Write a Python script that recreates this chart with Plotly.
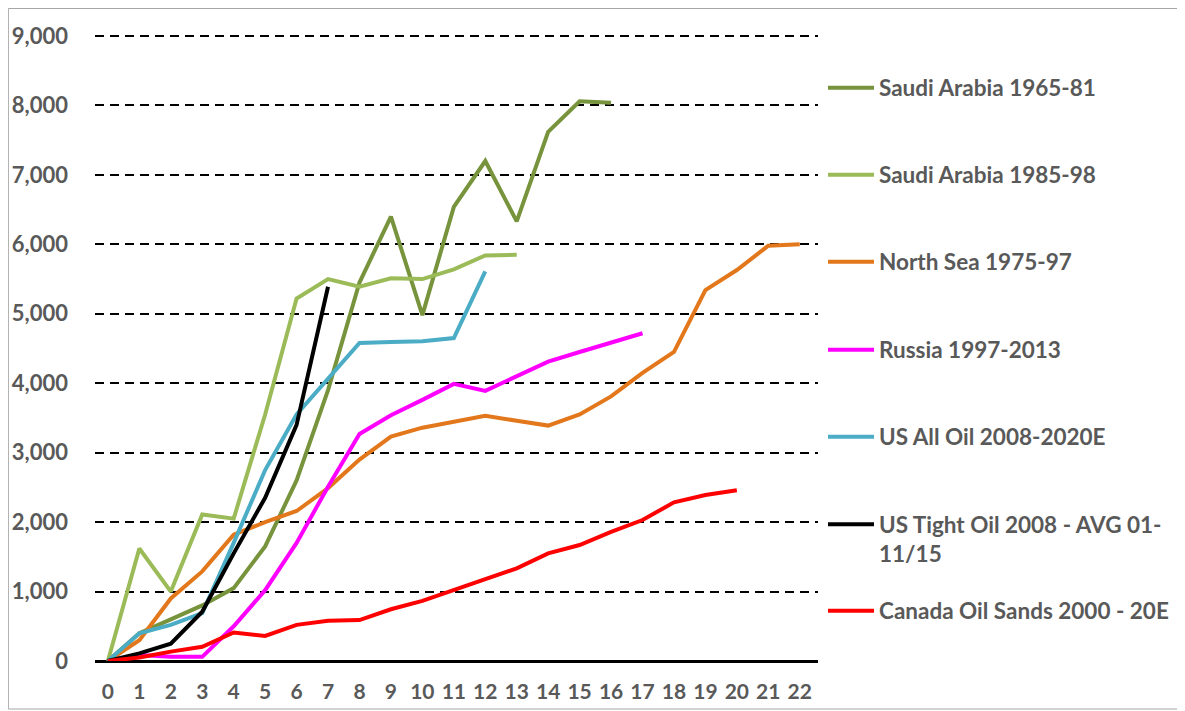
import plotly.graph_objects as go

# years since start of ramp-up
years = list(range(23))

saudi_65_81 = [0, 400, 600, 800, 1050, 1650, 2600, 3900, 5450, 6400, 4980, 6540, 7200, 6330, 7620, 8060, 8040]
saudi_85_98 = [0, 1620, 1000, 2110, 2050, 3550, 5220, 5500, 5390, 5510, 5500, 5640, 5840, 5850]
north_sea = [0, 300, 900, 1290, 1820, 2000, 2160, 2490, 2900, 3230, 3360, 3450, 3530, 3460, 3390,
             3550, 3810, 4150, 4450, 5340, 5630, 5980, 6000]
russia = [0, 85, 60, 60, 500, 1020, 1700, 2510, 3270, 3540, 3760, 3990, 3890, 4100, 4310, 4450, 4580, 4720]
us_all_oil = [0, 400, 520, 690, 1700, 2750, 3550, 4060, 4580, 4595, 4605, 4650, 5610]
us_tight_oil = [0, 110, 250, 710, 1550, 2350, 3400, 5390]
canada_sands = [0, 50, 135, 205, 410, 360, 520, 580, 590, 745, 865, 1020, 1190, 1335, 1550, 1670,
                1860, 2030, 2285, 2390, 2460]

series_names = ["Saudi Arabia 1965-81", "Saudi Arabia 1985-98", "North Sea 1975-97",
                "Russia 1997-2013", "US All Oil 2008-2020E", "US Tight Oil 2008 - AVG 01-<br>11/15",
                "Canada Oil Sands 2000 - 20E"]
series_values = [saudi_65_81, saudi_85_98, north_sea, russia, us_all_oil, us_tight_oil, canada_sands]
colors = ["#77933C", "#9BBB59", "#E3771B", "#FF00FF", "#4BACC6", "#000000", "#FF0000"]
legend_rows_px = [88, 175, 262, 350, 437, 524, 611]

# the page body adds an 8px offset, so the figure is laid out 8px smaller
OFF = 8
EXTRA = 3  # a few px of headroom so the 9,000 gridline is drawn
W, H = 1185 - OFF, 711 - OFF
L, T = 95 - OFF, 36 - OFF - EXTRA
R = W - (818 - OFF)
B = H - (661 - OFF)
plot_w = W - L - R
plot_h = H - T - B
ytop = 9000 * plot_h / (plot_h - EXTRA)
gray = "#595959"
font_fam = "Lato"

fig = go.Figure()
for i, (name, vals, col) in enumerate(zip(series_names, series_values, colors)):
    leg = "legend" if i == 0 else f"legend{i + 1}"
    fig.add_trace(go.Scatter(x=years[:len(vals)], y=vals, name=name, mode="lines",
                             line=dict(color=col, width=4), legend=leg))

# one legend box per series so rows sit where the original has them
for i, py in enumerate(legend_rows_px):
    key = "legend" if i == 0 else f"legend{i + 1}"
    fig.layout[key] = dict(
        x=(831 - 8 - OFF - L) / plot_w, xanchor="left",
        y=(H - B - (py - OFF)) / plot_h, yanchor="middle",
        font=dict(family=font_fam, size=22.5, color=gray, weight="bold"),
        bgcolor="rgba(0,0,0,0)", itemwidth=46, valign="top",
    )
fig.layout["legend6"].y = (H - B - (524 - OFF) - 15) / plot_h

fig.update_layout(
    width=W, height=H,
    margin=dict(l=L, r=R, t=T, b=B, autoexpand=False),
    paper_bgcolor="white", plot_bgcolor="white",
    showlegend=True,
    xaxis=dict(range=[-0.41, 22.58], tickmode="array", tickvals=years, showgrid=False,
               zeroline=False, showline=False, ticks="", ticklabelstandoff=16,
               tickfont=dict(family=font_fam, size=21, color=gray, weight="bold")),
    yaxis=dict(range=[0, ytop], tickvals=list(range(0, 9001, 1000)), tickformat=",", showgrid=True,
               gridcolor="black", gridwidth=2, griddash="9px,6px",
               zeroline=True, zerolinecolor="black", zerolinewidth=3,
               showline=False, ticks="", ticklabelstandoff=26,
               tickfont=dict(family=font_fam, size=22, color=gray, weight="bold")),
    shapes=[dict(type="rect", xref="paper", yref="paper",
                 x0=-L / plot_w + 0.0005, x1=(1183 - OFF - L) / plot_w,
                 y0=(H - B - (709 - OFF)) / plot_h, y1=(H - B - 0.5) / plot_h,
                 line=dict(color="#A6A6A6", width=1), layer="below")],
)

fig.write_html("out.html")
